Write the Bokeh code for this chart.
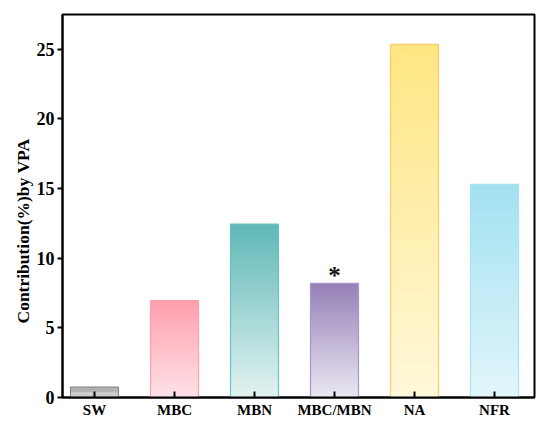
import numpy as np
from bokeh.plotting import figure
from bokeh.models import Range1d, FixedTicker, Title, ColumnDataSource
from bokeh.core.properties import value
from bokeh.embed import file_html
from bokeh.resources import INLINE

categories = ["SW", "MBC", "MBN", "MBC/MBN", "NA", "NFR"]
values = [0.75, 6.95, 12.45, 8.2, 25.35, 15.3]
top_colors = ["#9a9a9a", "#ff9fad", "#5fb7b7", "#9580b8", "#ffe682", "#a2e1f1"]
bottom_colors = ["#d2d2d2", "#ffe2e8", "#e2f3f1", "#ebe7f2", "#fff8da", "#e2f6fb"]
edge_colors = ["#8a8a8a", "#ff9fad", "#6cc0c0", "#a896c8", "#ffcc66", "#a8e4f2"]
star_labels = ["", "", "", "*", "", ""]
y_ticks = [0, 5, 10, 15, 20, 25]

FONT = "Liberation Serif"

p = figure(width=542, height=421, output_backend="svg", toolbar_location=None,
           x_range=Range1d(-0.4, 5.5), y_range=Range1d(0, 27.5),
           min_border_left=62, min_border_right=8, min_border_top=14, min_border_bottom=24)
p.grid.visible = False
p.background_fill_color = "white"
p.border_fill_color = "white"
p.outline_line_color = "black"
p.outline_line_width = 2

def hex2rgb(h):
    h = h.lstrip("#")
    return np.array([int(h[i:i + 2], 16) for i in (0, 2, 4)], dtype=float)

def rgb2hex(c):
    return "#%02x%02x%02x" % tuple(int(round(v)) for v in c)

N = 40
bw = 0.6
L, R, B, T, C = [], [], [], [], []
for i, v in enumerate(values):
    ct = hex2rgb(top_colors[i])
    cb = hex2rgb(bottom_colors[i])
    edges = np.linspace(0, v, N + 1)
    for k in range(N):
        f = (k + 0.5) / N
        L.append(i - bw / 2)
        R.append(i + bw / 2)
        B.append(edges[k])
        T.append(edges[k + 1] + (0 if k == N - 1 else v / N * 0.6))
        C.append(rgb2hex(cb + (ct - cb) * f))
p.quad(left=L, right=R, bottom=B, top=T, fill_color=C, line_color=None)

xs = list(range(len(categories)))
src = ColumnDataSource(dict(left=[x - bw / 2 for x in xs], right=[x + bw / 2 for x in xs],
                            top=values, bottom=[0] * len(values), edge=edge_colors,
                            x=xs, star=star_labels))
p.quad(left="left", right="right", top="top", bottom="bottom", source=src,
       fill_color=None, line_color="edge", line_width=1.2)

p.text(x="x", y="top", text="star", source=src, text_font=value(FONT),
       text_font_size="25px", text_font_style="bold", text_align="center",
       text_baseline="alphabetic", y_offset=-8, text_color="#111111")

# axes
p.xaxis.ticker = FixedTicker(ticks=xs)
p.xaxis.major_label_overrides = {i: c for i, c in enumerate(categories)}
p.yaxis.ticker = FixedTicker(ticks=y_ticks)
for ax in (p.xaxis, p.yaxis):
    ax.axis_line_width = 2
    ax.major_tick_line_width = 2
    ax.minor_tick_line_color = None
    ax.major_label_text_font = FONT
    ax.major_label_text_font_style = "bold"
    ax.major_label_text_color = "black"
p.xaxis.major_tick_in = 6
p.xaxis.major_tick_out = 0
p.xaxis.major_label_text_font_size = "15px"
p.xaxis.major_label_standoff = 4
p.yaxis.major_tick_in = 0
p.yaxis.major_tick_out = 5
p.yaxis.major_label_text_font_size = "18px"
p.yaxis.major_label_standoff = 3

ytitle = Title(text="Contribution(%)by VPA", align="left", offset=74,
               text_font=FONT, text_font_style="bold", text_font_size="17.5px",
               text_color="black", standoff=2)
p.add_layout(ytitle, "left")

open("out.html", "w").write(file_html(p, INLINE))
